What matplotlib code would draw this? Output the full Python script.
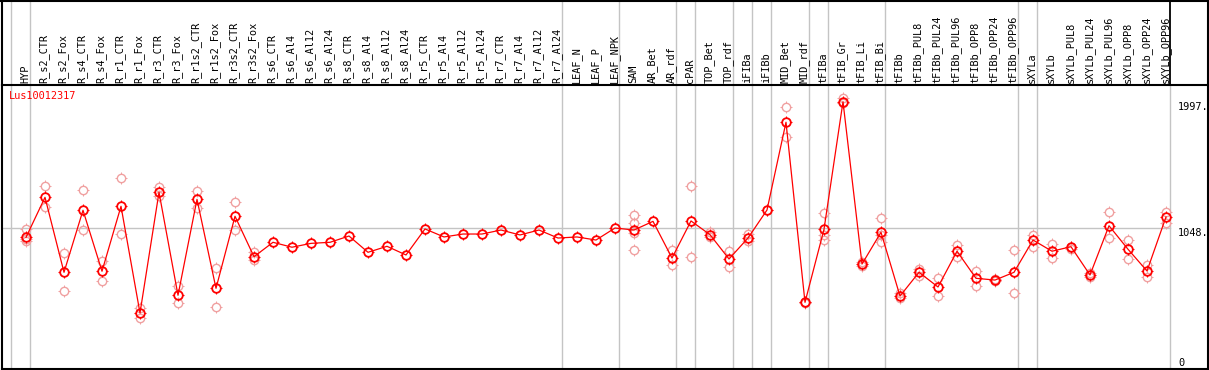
import numpy as np
import matplotlib
matplotlib.use("Agg")
import matplotlib.pyplot as plt
from matplotlib.path import Path
from matplotlib.lines import Line2D
import matplotlib.transforms as mtransforms

# sample labels, one column each
samples = ["HYP", "R_s2_CTR", "R_s2_Fox", "R_s4_CTR", "R_s4_Fox", "R_r1_CTR", "R_r1_Fox",
           "R_r3_CTR", "R_r3_Fox", "R_r1s2_CTR", "R_r1s2_Fox", "R_r3s2_CTR", "R_r3s2_Fox",
           "R_s6_CTR", "R_s6_Al4", "R_s6_Al12", "R_s6_Al24", "R_s8_CTR", "R_s8_Al4", "R_s8_Al12",
           "R_s8_Al24", "R_r5_CTR", "R_r5_Al4", "R_r5_Al12", "R_r5_Al24", "R_r7_CTR", "R_r7_Al4",
           "R_r7_Al12", "R_r7_Al24", "LEAF_N", "LEAF_P", "LEAF_NPK", "SAM", "AR_Bet", "AR_rdf",
           "cPAR", "TOP_Bet", "TOP_rdf", "iFIBa", "iFIBb", "MID_Bet", "MID_rdf", "tFIBa",
           "tFIB_Gr", "tFIB_Li", "tFIB_Bi", "tFIBb", "tFIBb_PUL8", "tFIBb_PUL24", "tFIBb_PUL96",
           "tFIBb_OPP8", "tFIBb_OPP24", "tFIBb_OPP96", "sXYLa", "sXYLb", "sXYLb_PUL8",
           "sXYLb_PUL24", "sXYLb_PUL96", "sXYLb_OPP8", "sXYLb_OPP24", "sXYLb_OPP96"]

# mean expression per sample
means = [980, 1280, 718, 1183, 726, 1213, 413, 1318, 546, 1265, 598, 1138, 835,
         943, 906, 935, 943, 990, 868, 913, 848, 1043, 983, 1005, 1005, 1035, 998,
         1035, 975, 983, 960, 1050, 1035, 1100, 825, 1103, 1000, 818, 975, 1185,
         1843, 493, 1040, 1997, 780, 1018, 540, 718, 608, 876, 673, 660, 718,
         960, 876, 910, 698, 1067, 891, 728, 1133]

# replicate values (where visible)
replicates = [[1043, 964, 953], [1365, 1205], [861, 576], [1333, 1035], [805, 651],
              [1423, 1003], [453, 378], [1358, 1290], [615, 486], [1328, 1202],
              [748, 456], [1243, 1033], [873, 810],
              [], [], [], [], [], [], [], [], [], [], [], [], [], [], [], [], [], [], [],
              [1148, 1085, 1015, 883], [], [885, 771], [1363, 833], [1018, 985],
              [878, 756], [1003, 953], [1185], [1957, 1735], [490, 497],
              [1160, 998, 960], [2022, 1985], [798, 765], [1123, 943, 998], [523, 563],
              [743, 690], [673, 540], [923, 831], [728, 615], [655, 665], [883, 561],
              [1000, 910], [930, 823], [891, 910], [715, 685], [1168, 975], [958, 816],
              [773, 685], [1172, 1085]]

# group boundaries (after column index)
group_ends = [-1, 0, 28, 31, 34, 35, 37, 38, 39, 41, 42, 45, 52, 53, 60]

gene = "Lus10012317"
ref_value = 1048
max_value = 1997

W, H = 1209, 370
fig = plt.figure(figsize=(W / 100, H / 100), dpi=100)
ax = fig.add_axes([1.5 / W, 1 / H, (1207.7 - 1.5) / W, 284 / H])
ax.set_xlim((1.5 - 26) / 19, (1207.7 - 26) / 19)
ax.set_ylim(-6.7, 2122)
ax.set_xticks([])
ax.set_yticks([])
for s in ax.spines.values():
    s.set_linewidth(1.5)
    s.set_color("black")

x = np.arange(len(samples))
mono = "DejaVu Sans Mono"
grey = "#c4c4c4"

# separators, running through header
trans = mtransforms.blended_transform_factory(ax.transData, ax.transAxes)
top_ax = 1 + 85 / 284
for k in group_ends:
    xs = k + 0.23
    ax.plot([xs, xs], [0, 1], color=grey, lw=1.0, transform=trans, zorder=1)
    col = "black" if k == group_ends[-1] else grey
    ax.plot([xs, xs], [1, top_ax], color=col, lw=1.0 if col == grey else 1.3,
            transform=trans, clip_on=False, zorder=1)

# reference line
ax.plot([ax.get_xlim()[0], group_ends[-1] + 0.23], [ref_value, ref_value],
        color=grey, lw=1.0, zorder=1)

# little ticks around the circles
tick_mk = Path([(0, 0.75), (0, 1), (0, -0.75), (0, -1), (0.75, 0), (1, 0), (-0.75, 0), (-1, 0)],
               [Path.MOVETO, Path.LINETO] * 4)

rx, ry = [], []
for i, reps in enumerate(replicates):
    for v in reps:
        rx.append(i)
        ry.append(v)
pink = "#f0a0a0"
ax.plot(rx, ry, ls="none", marker="o", ms=6.0, mfc="none", mec=pink, mew=1.0, zorder=2)
ax.plot(rx, ry, ls="none", marker=tick_mk, ms=8.4, mfc="none", mec=pink, mew=0.7, zorder=2)

ax.plot(x, means, color="red", lw=0.9, marker="o", ms=6.2, mfc="none", mec="red",
        mew=1.3, zorder=3)
ax.plot(x, means, ls="none", marker=tick_mk, ms=8.6, mfc="none", mec="red",
        mew=0.8, zorder=3)

# header labels
for i, lab in enumerate(samples):
    ax.text(i - 0.05, 1 + 2 / 284, lab, rotation=90, ha="center", va="bottom",
            family=mono, fontsize=7.4, transform=trans, clip_on=False)

# gene name
ax.text((9 - 26) / 19, 1 - 11 / 284, gene, color="red", family=mono, fontsize=7.4,
        ha="left", va="center", transform=trans)

# value labels on right
lx = (1178 - 26) / 19
ax.text(lx, max_value, "1997.", family=mono, fontsize=7.4, ha="left", va="top")
ax.text(lx, ref_value, "1048.", family=mono, fontsize=7.4, ha="left", va="top")
ax.text(lx, 0, "0", family=mono, fontsize=7.4, ha="left", va="bottom")

# frame lines in header
fig.add_artist(Line2D([0, 1], [1 - 0.5 / H, 1 - 0.5 / H], color="black", lw=1.5))
fig.add_artist(Line2D([1.5 / W, 1.5 / W], [1 - 85 / H, 1], color="black", lw=1.5))
fig.add_artist(Line2D([1207.7 / W, 1207.7 / W], [1 - 85 / H, 1], color="black", lw=1.5))

fig.savefig("out.png", dpi=100)
